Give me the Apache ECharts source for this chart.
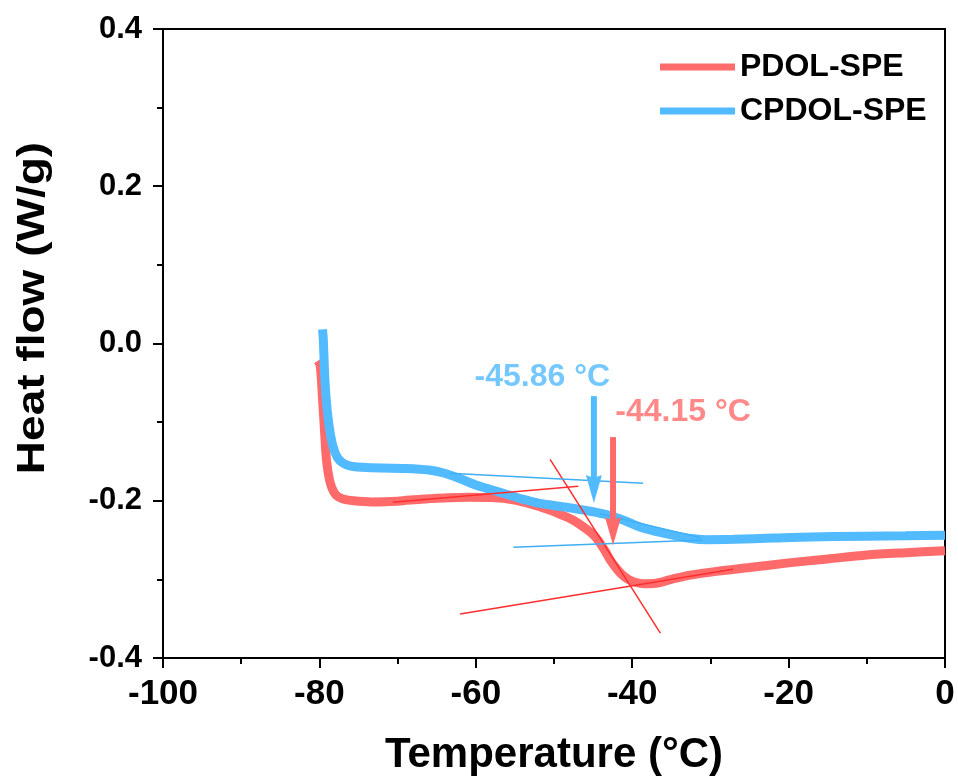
<!DOCTYPE html>
<html>
<head>
<meta charset="utf-8">
<script src="https://cdn.jsdelivr.net/npm/echarts@6/dist/echarts.min.js"></script>
<style>html,body{margin:0;padding:0;background:#fff;}#chart{width:958px;height:781px;}</style>
</head>
<body>
<div id="chart"></div>
<script>
// ---- data ----
const xTicks = [-100, -80, -60, -40, -20, 0];
const yTicks = [-0.4, -0.2, 0.0, 0.2, 0.4];
const seriesNames = ['PDOL-SPE', 'CPDOL-SPE'];

const pdolT = [-80.2,-79.9,-79.6,-79.35,-79.1,-78.7,-78.2,-77.6,-76.5,-75,-73,-70,-67,-64,-61,-58,-55,-52,-49.5,-47.6,-45.8,-44.8,-44.1,-43.4,-42.8,-42.1,-41.4,-40.5,-39.5,-38.5,-37,-35,-32.6,-29,-25,-20,-15,-10,-5,0];
const pdolHF = [-0.022,-0.028,-0.07,-0.11,-0.148,-0.174,-0.188,-0.195,-0.199,-0.2005,-0.2015,-0.2005,-0.198,-0.1965,-0.1955,-0.1958,-0.199,-0.207,-0.216,-0.2245,-0.2365,-0.245,-0.254,-0.265,-0.2755,-0.285,-0.293,-0.3,-0.304,-0.3055,-0.305,-0.3,-0.2946,-0.2895,-0.285,-0.279,-0.274,-0.269,-0.266,-0.2635];

const cpdolT = [-79.6,-79.5,-79.3,-79.0,-78.6,-78.2,-77.7,-77.0,-76,-74.5,-72,-69,-66,-64,-62,-60,-58,-56,-54,-52,-50,-47.6,-45,-43.2,-41,-39,-37,-34.8,-32.5,-30.5,-27,-22,-18.5,-10,-5,0];
const cpdolHF = [0.018,0.005,-0.045,-0.085,-0.115,-0.133,-0.145,-0.152,-0.156,-0.1575,-0.1585,-0.159,-0.161,-0.165,-0.172,-0.18,-0.186,-0.192,-0.198,-0.203,-0.206,-0.2095,-0.214,-0.218,-0.225,-0.2335,-0.239,-0.2438,-0.248,-0.2495,-0.249,-0.2475,-0.2463,-0.245,-0.2445,-0.2438];

// tangent construction lines: [T1, HF1, T2, HF2]
const pdolTangents = [
  [-70.6, -0.2019, -46.9, -0.1816],
  [-50.5, -0.1473, -36.4, -0.3683],
  [-62.0, -0.344, -27.1, -0.287]
];
const cpdolTangents = [
  [-63.3, -0.165, -38.6, -0.1778],
  [-55.2, -0.259, -31.0, -0.250],
  [-44.1, -0.2164, -31.3, -0.2469]
];

// arrows: [T, HF start, HF tip]
const cpdolArrow = [-44.9, -0.067, -0.203];
const pdolArrow = [-42.45, -0.119, -0.2565];

// annotation labels: [T, HF, text]
const cpdolNote = [-51.5, -0.0432, '-45.86 °C'];
const pdolNote = [-33.5, -0.0876, '-44.15 °C'];

// ---- styles ----
const RED = '#FF6B6B';
const BLUE = '#52BAFF';
const RED_THIN = '#FF2E2E';
const BLUE_THIN = '#3FAEF5';
const FONT = "'Liberation Sans', Arial, sans-serif";

function zip(a, b) { return a.map((v, i) => [v, b[i]]); }

const extraSeries = [];
pdolTangents.forEach((t, i) => extraSeries.push({
  name: 'pdol-tan-' + i, type: 'line', silent: true, symbol: 'none', z: 5,
  data: [[t[0], t[1]], [t[2], t[3]]],
  lineStyle: { color: RED_THIN, width: 1.5 }
}));
cpdolTangents.forEach((t, i) => extraSeries.push({
  name: 'cpdol-tan-' + i, type: 'line', silent: true, symbol: 'none', z: 5,
  data: [[t[0], t[1]], [t[2], t[3]]],
  lineStyle: { color: BLUE_THIN, width: 1.5 }
}));

// arrows: shaft (line series, stops inside the head) + head (scatter with a downward triangle whose tip sits on the point)
const HEAD_W = 16, HEAD_H = 28;
const headPath = 'path://M0,0 L5,1.8 L10,0 L5,18 Z';
[[cpdolArrow, BLUE, 'cpdol'], [pdolArrow, RED, 'pdol']].forEach(([a, c, k]) => {
  extraSeries.push({
    name: k + '-arrow-shaft', type: 'line', silent: true, symbol: 'none', z: 6,
    data: [[a[0], a[1]], [a[0], a[2] + 0.02]],
    lineStyle: { color: c, width: 6, cap: 'butt' }
  });
  extraSeries.push({
    name: k + '-arrow-head', type: 'scatter', silent: true, z: 7,
    symbol: headPath, symbolSize: [HEAD_W, HEAD_H], symbolKeepAspect: false,
    symbolOffset: [0, -HEAD_H / 2],
    data: [[a[0], a[2]]],
    itemStyle: { color: c, opacity: 1 }
  });
});

const chart = echarts.init(document.getElementById('chart'), null, { renderer: 'canvas' });
chart.setOption({
  animation: false,
  backgroundColor: '#fff',
  grid: { left: 163, right: 13, top: 29, bottom: 122, show: true, borderColor: '#000', borderWidth: 2, backgroundColor: 'transparent' },
  legend: {
    data: seriesNames, orient: 'vertical', left: 655, top: 46,
    itemWidth: 75, itemHeight: 7, itemGap: 12, icon: 'rect',
    textStyle: { fontFamily: FONT, fontWeight: 'bold', fontSize: 32, color: '#000' }
  },
  xAxis: {
    type: 'value', min: xTicks[0], max: xTicks[xTicks.length - 1], interval: xTicks[1] - xTicks[0],
    name: 'Temperature (°C)', nameLocation: 'middle', nameGap: 76,
    nameTextStyle: { fontFamily: FONT, fontWeight: 'bold', fontSize: 42, color: '#000' },
    axisLine: { show: true, onZero: false, lineStyle: { color: '#000', width: 2 } },
    axisTick: { show: true, inside: false, length: 10, lineStyle: { color: '#000', width: 2 } },
    minorTick: { show: true, splitNumber: 2, length: 6, lineStyle: { color: '#000', width: 2 } },
    splitLine: { show: false },
    axisLabel: { margin: 19, fontFamily: FONT, fontWeight: 'bold', fontSize: 35, color: '#000' }
  },
  yAxis: {
    type: 'value', min: yTicks[0], max: yTicks[yTicks.length - 1], interval: 0.2,
    axisLine: { show: true, onZero: false, lineStyle: { color: '#000', width: 2 } },
    axisTick: { show: true, inside: false, length: 10, lineStyle: { color: '#000', width: 2 } },
    minorTick: { show: true, splitNumber: 2, length: 6, lineStyle: { color: '#000', width: 2 } },
    splitLine: { show: false },
    axisLabel: { margin: 21, fontFamily: FONT, fontWeight: 'bold', fontSize: 31, color: '#000',
      formatter: v => v.toFixed(1) }
  },
  graphic: [{
    type: 'text', x: 33, y: 308, rotation: Math.PI / 2, scaleX: 1.18, z: 10,
    style: { text: 'Heat flow (W/g)', fontFamily: FONT, fontWeight: 'bold', fontSize: 39, fill: '#000',
      align: 'center', verticalAlign: 'middle' }
  }],
  series: [
    {
      name: seriesNames[0], type: 'line', symbol: 'none', smooth: 0.3, z: 3,
      data: zip(pdolT, pdolHF),
      lineStyle: { color: RED, width: 9 }, itemStyle: { color: RED }
    },
    {
      name: seriesNames[1], type: 'line', symbol: 'none', smooth: 0.3, z: 4,
      data: zip(cpdolT, cpdolHF),
      lineStyle: { color: BLUE, width: 9 }, itemStyle: { color: BLUE }
    },
    ...extraSeries,
    {
      name: 'notes', type: 'scatter', symbolSize: 0, silent: true, z: 8,
      data: [
        { value: [cpdolNote[0], cpdolNote[1]], label: { formatter: cpdolNote[2], color: BLUE } },
        { value: [pdolNote[0], pdolNote[1]], label: { formatter: pdolNote[2], color: RED } }
      ],
      label: { show: true, position: 'inside', fontFamily: FONT, fontWeight: 'bold', fontSize: 32 }
    }
  ]
});
</script>
</body>
</html>
